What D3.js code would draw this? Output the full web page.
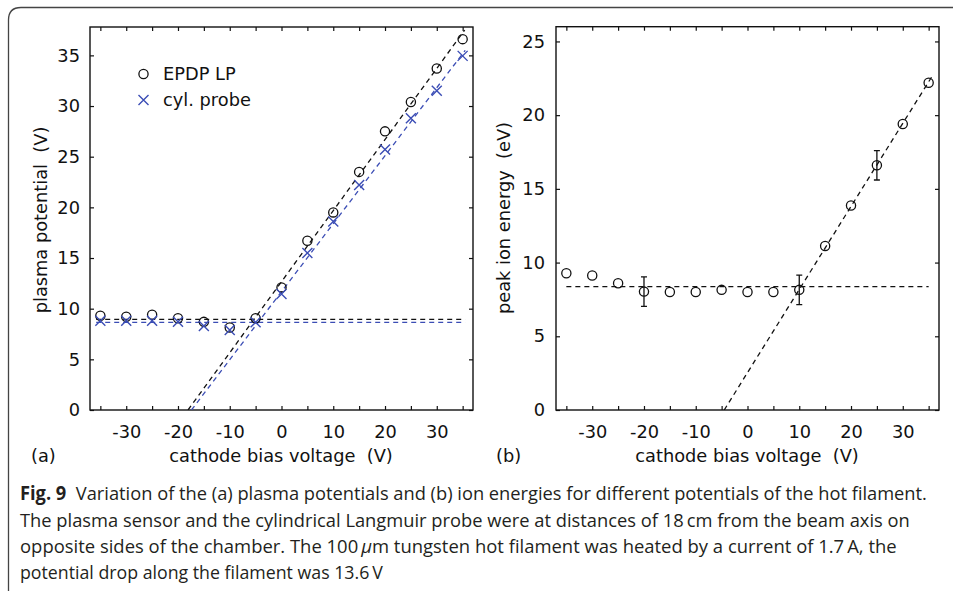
<!DOCTYPE html>
<html>
<head>
<meta charset="utf-8">
<script src="https://cdn.jsdelivr.net/npm/d3@7"></script>
<style>
  html, body { margin: 0; padding: 0; background: #fff; }
  svg { display: block; }
</style>
</head>
<body>
<svg id="chart" width="953" height="591"></svg>
<script>
// ---------------- data ----------------
const voltage = [-35, -30, -25, -20, -15, -10, -5, 0, 5, 10, 15, 20, 25, 30, 35];
const epdpLP  = [9.3, 9.2, 9.4, 9.05, 8.7, 8.15, 9.05, 12.1, 16.7, 19.5, 23.5, 27.5, 30.4, 33.7, 36.6];
const cylProbe = [8.8, 8.8, 8.8, 8.7, 8.3, 7.9, 8.65, 11.45, 15.5, 18.6, 22.2, 25.7, 28.8, 31.5, 34.95];
const ionEnergy = [9.28, 9.12, 8.6, 8.03, 8.0, 8.0, 8.15, 8.0, 8.0, 8.15, 11.13, 13.87, 16.6, 19.4, 22.2];
const ionError  = [0, 0, 0, 1.0, 0, 0, 0, 0, 0, 1.0, 0, 0, 1.0, 0, 0];

// fitted lines: [x0, y0, x1, y1]
const epdpFlatFit  = [-35.8, 8.95, 35.5, 8.95];
const epdpSlopeFit = [-18.06, 0, 35.4, 37.5];
const cylFlatFit   = [-35.8, 8.65, 35.5, 8.65];
const cylSlopeFit  = [-17.4, 0, 35.5, 35.5];
const ionFlatFit   = [-35, 8.37, 35, 8.37];
const ionSlopeFit  = [-4.5, 0, 35.6, 22.6];

const xTicks = [-35, -30, -25, -20, -15, -10, -5, 0, 5, 10, 15, 20, 25, 30, 35];
const xTickLabels = [-30, -20, -10, 0, 10, 20, 30];
const yTicksA = [0, 5, 10, 15, 20, 25, 30, 35];
const yTicksB = [0, 5, 10, 15, 20, 25];

const legendLabels = ["EPDP LP", "cyl. probe"];
const xLabel = "cathode bias voltage  (V)";
const yLabelA = "plasma potential  (V)";
const yLabelB = "peak ion energy  (eV)";

const captionLines = [
  [{t: "Fig. 9", b: true}, {t: "  Variation of the (a) plasma potentials and (b) ion energies for different potentials of the hot filament."}],
  [{t: "The plasma sensor and the cylindrical Langmuir probe were at distances of 18\u2009cm from the beam axis on"}],
  [{t: "opposite sides of the chamber. The 100\u2009"}, {t: "\u03BC", i: true}, {t: "m tungsten hot filament was heated by a current of 1.7\u2009A, the"}],
  [{t: "potential drop along the filament was 13.6\u2009V"}]
];
const captionWidths = [908, 890, 877, 363];

// ---------------- drawing ----------------
const svg = d3.select("#chart");
const FONT = "DejaVu Sans, Verdana, sans-serif";
const FS = 17.8;
const BLUE = "#3b4db5";
const INK = "#111";
const tickLen = 4;

// outer frame
svg.append("path")
  .attr("d", "M8.5,591 L8.5,20 Q8.5,7.5 21,7.5 L953,7.5")
  .attr("fill", "none").attr("stroke", "#444").attr("stroke-width", 1.3);

function panel(x0, x1, y0, y1, yDomain, yTicks, lpad) {
  const x = d3.scaleLinear().domain([-37, 37]).range([x0, x1]);
  const y = d3.scaleLinear().domain(yDomain).range([y1, y0]);
  const g = svg.append("g");
  const bottom = g.append("g").attr("transform", `translate(0,${y1})`)
    .call(d3.axisBottom(x).tickValues(xTicks).tickSize(-tickLen).tickPadding(15.4)
      .tickFormat(d => xTickLabels.includes(d) ? String(d) : ""));
  const top = g.append("g").attr("transform", `translate(0,${y0})`)
    .call(d3.axisTop(x).tickValues(xTicks).tickSize(-tickLen).tickFormat(""));
  const left = g.append("g").attr("transform", `translate(${x0},0)`)
    .call(d3.axisLeft(y).tickValues(yTicks).tickSize(-tickLen).tickPadding(lpad));
  const right = g.append("g").attr("transform", `translate(${x1},0)`)
    .call(d3.axisRight(y).tickValues(yTicks).tickSize(-tickLen).tickFormat(""));
  [bottom, top, left, right].forEach(a => {
    a.select(".domain").remove();
    a.selectAll(".tick line").attr("stroke", INK).attr("stroke-width", 1.2);
    a.selectAll("text").attr("font-family", FONT).attr("font-size", FS).attr("fill", INK);
  });
  bottom.selectAll("text").attr("dy", "0.71em");
  g.append("rect").attr("x", x0).attr("y", y0).attr("width", x1 - x0).attr("height", y1 - y0)
    .attr("fill", "none").attr("stroke", INK).attr("stroke-width", 1.4);
  const clip = "clip" + Math.round(x0);
  svg.append("clipPath").attr("id", clip).append("rect")
    .attr("x", x0).attr("y", y0).attr("width", x1 - x0).attr("height", y1 - y0);
  const plot = svg.append("g").attr("clip-path", `url(#${clip})`);
  return {x, y, g, plot};
}

function fitLine(p, f, color) {
  p.plot.append("line")
    .attr("x1", p.x(f[0])).attr("y1", p.y(f[1]))
    .attr("x2", p.x(f[2])).attr("y2", p.y(f[3]))
    .attr("stroke", color).attr("stroke-width", 1.3).attr("stroke-dasharray", "5,4");
}

function circles(p, xs, ys) {
  p.plot.append("g").selectAll("circle").data(xs).join("circle")
    .attr("cx", d => p.x(d)).attr("cy", (d, i) => p.y(ys[i])).attr("r", 4.6)
    .attr("fill", "none").attr("stroke", INK).attr("stroke-width", 1.3);
}

function crosses(p, xs, ys, color) {
  const s = 5;
  p.plot.append("g").selectAll("path").data(xs).join("path")
    .attr("d", (d, i) => {
      const cx = p.x(d), cy = p.y(ys[i]);
      return `M${cx - s},${cy - s}L${cx + s},${cy + s}M${cx - s},${cy + s}L${cx + s},${cy - s}`;
    })
    .attr("fill", "none").attr("stroke", color).attr("stroke-width", 1.4);
}

// ----- panel (a)
const A = panel(90, 473, 27, 410, [0, 37.8], yTicksA, 10);
fitLine(A, epdpFlatFit, INK);
fitLine(A, epdpSlopeFit, INK);
fitLine(A, cylFlatFit, BLUE);
fitLine(A, cylSlopeFit, BLUE);
circles(A, voltage, epdpLP);
crosses(A, voltage, cylProbe, BLUE);

// legend
svg.append("circle").attr("cx", 143.5).attr("cy", 74).attr("r", 4.6)
  .attr("fill", "none").attr("stroke", INK).attr("stroke-width", 1.3);
svg.append("path").attr("d", "M138.5,95 L148.5,105 M138.5,105 L148.5,95")
  .attr("stroke", BLUE).attr("stroke-width", 1.4).attr("fill", "none");
svg.append("text").attr("x", 163).attr("y", 80.4).text(legendLabels[0])
  .attr("font-family", FONT).attr("font-size", FS).attr("fill", INK);
svg.append("text").attr("x", 163).attr("y", 106.4).text(legendLabels[1])
  .attr("font-family", FONT).attr("font-size", FS).attr("fill", INK);

// ----- panel (b)
const B = panel(556, 939, 26.7, 410, [0, 26], yTicksB, 11);
fitLine(B, ionFlatFit, INK);
fitLine(B, ionSlopeFit, INK);
voltage.forEach((v, i) => {
  const e = ionError[i];
  if (!e) return;
  const cx = B.x(v), ya = B.y(ionEnergy[i] + e), yb = B.y(ionEnergy[i] - e);
  B.plot.append("path")
    .attr("d", `M${cx},${ya}L${cx},${yb}M${cx - 3},${ya}L${cx + 3},${ya}M${cx - 3},${yb}L${cx + 3},${yb}`)
    .attr("stroke", INK).attr("stroke-width", 1.3).attr("fill", "none");
});
circles(B, voltage, ionEnergy);

// axis labels
function label(x, y, txt, rot) {
  const t = svg.append("text").attr("x", x).attr("y", y).text(txt)
    .attr("font-family", FONT).attr("font-size", FS).attr("fill", INK)
    .attr("text-anchor", "middle").attr("xml:space", "preserve").style("white-space", "pre");
  if (rot) t.attr("transform", `rotate(-90,${x},${y})`);
  return t;
}
label(281, 462, xLabel);
label(747, 462, xLabel);
label(46.5, 220, yLabelA, true);
label(509.5, 218, yLabelB, true);
svg.append("text").attr("x", 31).attr("y", 462).text("(a)")
  .attr("font-family", FONT).attr("font-size", FS).attr("fill", INK);
svg.append("text").attr("x", 496).attr("y", 462).text("(b)")
  .attr("font-family", FONT).attr("font-size", FS).attr("fill", INK);

// caption
const CAPFONT = "'Liberation Sans Narrow', 'Open Sans', 'Noto Sans', sans-serif";
const capBase = [500, 526.5, 553, 579];
captionLines.forEach((line, li) => {
  const t = svg.append("text").attr("x", 0).attr("y", 0)
    .attr("font-family", CAPFONT).attr("font-size", 19).attr("fill", "#231f20")
    .attr("xml:space", "preserve").style("white-space", "pre");
  line.forEach(seg => {
    const s = t.append("tspan").text(seg.t);
    if (seg.b) s.attr("font-weight", "bold");
    if (seg.i) s.attr("font-style", "italic");
  });
  const w = t.node().getComputedTextLength();
  const k = captionWidths[li] / w;
  t.attr("transform", `translate(20,${capBase[li]}) scale(${k},1)`);
});
</script>
</body>
</html>
